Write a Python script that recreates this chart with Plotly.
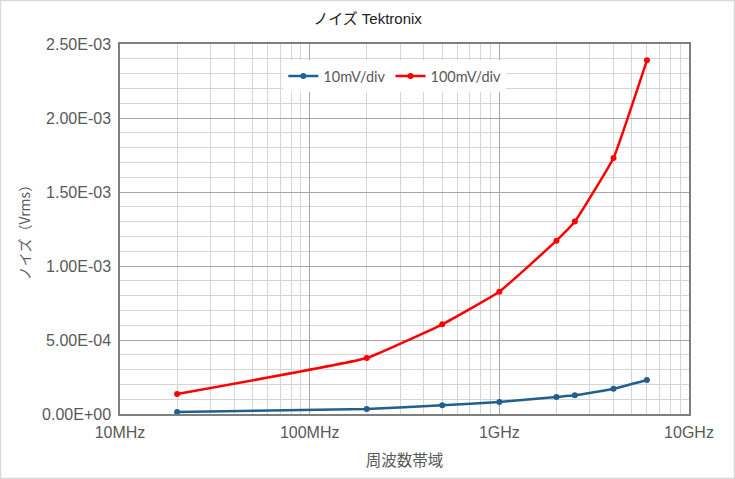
import plotly.graph_objects as go

freq_hz = [20e6, 200e6, 500e6, 1e9, 2e9, 2.5e9, 4e9, 6e9]
noise_10mv = [1.35e-5, 3.4e-5, 5.9e-5, 8.1e-5, 1.15e-4, 1.26e-4, 1.71e-4, 2.3e-4]
noise_100mv = [1.35e-4, 3.78e-4, 6.06e-4, 8.26e-4, 1.171e-3, 1.30e-3, 1.73e-3, 2.39e-3]

y_tickvals = [0, 5e-4, 1e-3, 1.5e-3, 2e-3, 2.5e-3]
y_ticktext = ["0.00E+00", "5.00E-04", "1.00E-03", "1.50E-03", "2.00E-03", "2.50E-03"]
x_tickvals = [1e7, 1e8, 1e9, 1e10]
x_ticktext = ["10MHz", "100MHz", "1GHz", "10GHz"]

fig = go.Figure()
fig.add_trace(go.Scatter(x=freq_hz, y=noise_10mv, name="10mV/div", mode="lines+markers",
                         line=dict(color="#215F8F", width=2.5, shape="spline", smoothing=0.3),
                         marker=dict(size=6, color="#215F8F")))
fig.add_trace(go.Scatter(x=freq_hz, y=noise_100mv, name="100mV/div", mode="lines+markers",
                         line=dict(color="#FF0000", width=2.5, shape="spline", smoothing=0.3),
                         marker=dict(size=6, color="#FF0000")))

tickfont = dict(family="Liberation Sans, Arial, sans-serif", size=16, color="#595959")
fig.update_layout(
    width=735, height=479,
    margin=dict(l=120, r=46, t=44, b=65),
    paper_bgcolor="white", plot_bgcolor="white",
    title=dict(text="ノイズ Tektronix", x=0.5, xanchor="center", y=0.96, yanchor="middle",
               font=dict(family="Liberation Sans, Noto Sans CJK JP, sans-serif", size=15, color="#222222")),
    legend=dict(orientation="h", x=0.483, y=0.913, xanchor="center", yanchor="middle",
                bgcolor="white", font=dict(family="Lato, sans-serif", size=14.5, color="#595959"),
                itemwidth=30, tracegroupgap=0),
    xaxis=dict(type="log", range=[7, 10], tickvals=x_tickvals, ticktext=x_ticktext,
               tickfont=tickfont, showgrid=True, gridcolor="#A6A6A6", gridwidth=1,
               showline=True, linecolor="#7F7F7F", linewidth=1.5, mirror=True, ticks="",
               minor=dict(dtick="D1", showgrid=True, gridcolor="#D5D5D5", gridwidth=1, ticks=""),
               title=dict(text="周波数帯域", standoff=15,
                          font=dict(family="Noto Sans CJK JP, sans-serif", size=15.5, color="#595959")),
               zeroline=False, ticklabelstandoff=3),
    yaxis=dict(range=[0, 2.5e-3], tickvals=y_tickvals, ticktext=y_ticktext,
               tickfont=tickfont, showgrid=True, gridcolor="#A6A6A6", gridwidth=1,
               showline=True, linecolor="#7F7F7F", linewidth=1.5, mirror=True, ticks="",
               minor=dict(dtick=1e-4, showgrid=True, gridcolor="#D5D5D5", gridwidth=1, ticks=""),
               title=dict(text="ノイズ（Vrms）", standoff=8,
                          font=dict(family="Noto Sans CJK JP, sans-serif", size=14, color="#595959")),
               zeroline=False, ticklabelstandoff=4),
)
fig.add_shape(type="rect", xref="paper", yref="paper",
              x0=-119.5/569, x1=1 + 45.5/569, y0=-64.5/370, y1=1 + 43.5/370,
              line=dict(color="#D9D9D9", width=1.5), layer="below")
fig.write_html("out.html", config={"displayModeBar": False},
               post_script="document.body.style.margin='0';document.body.style.overflow='hidden';")
